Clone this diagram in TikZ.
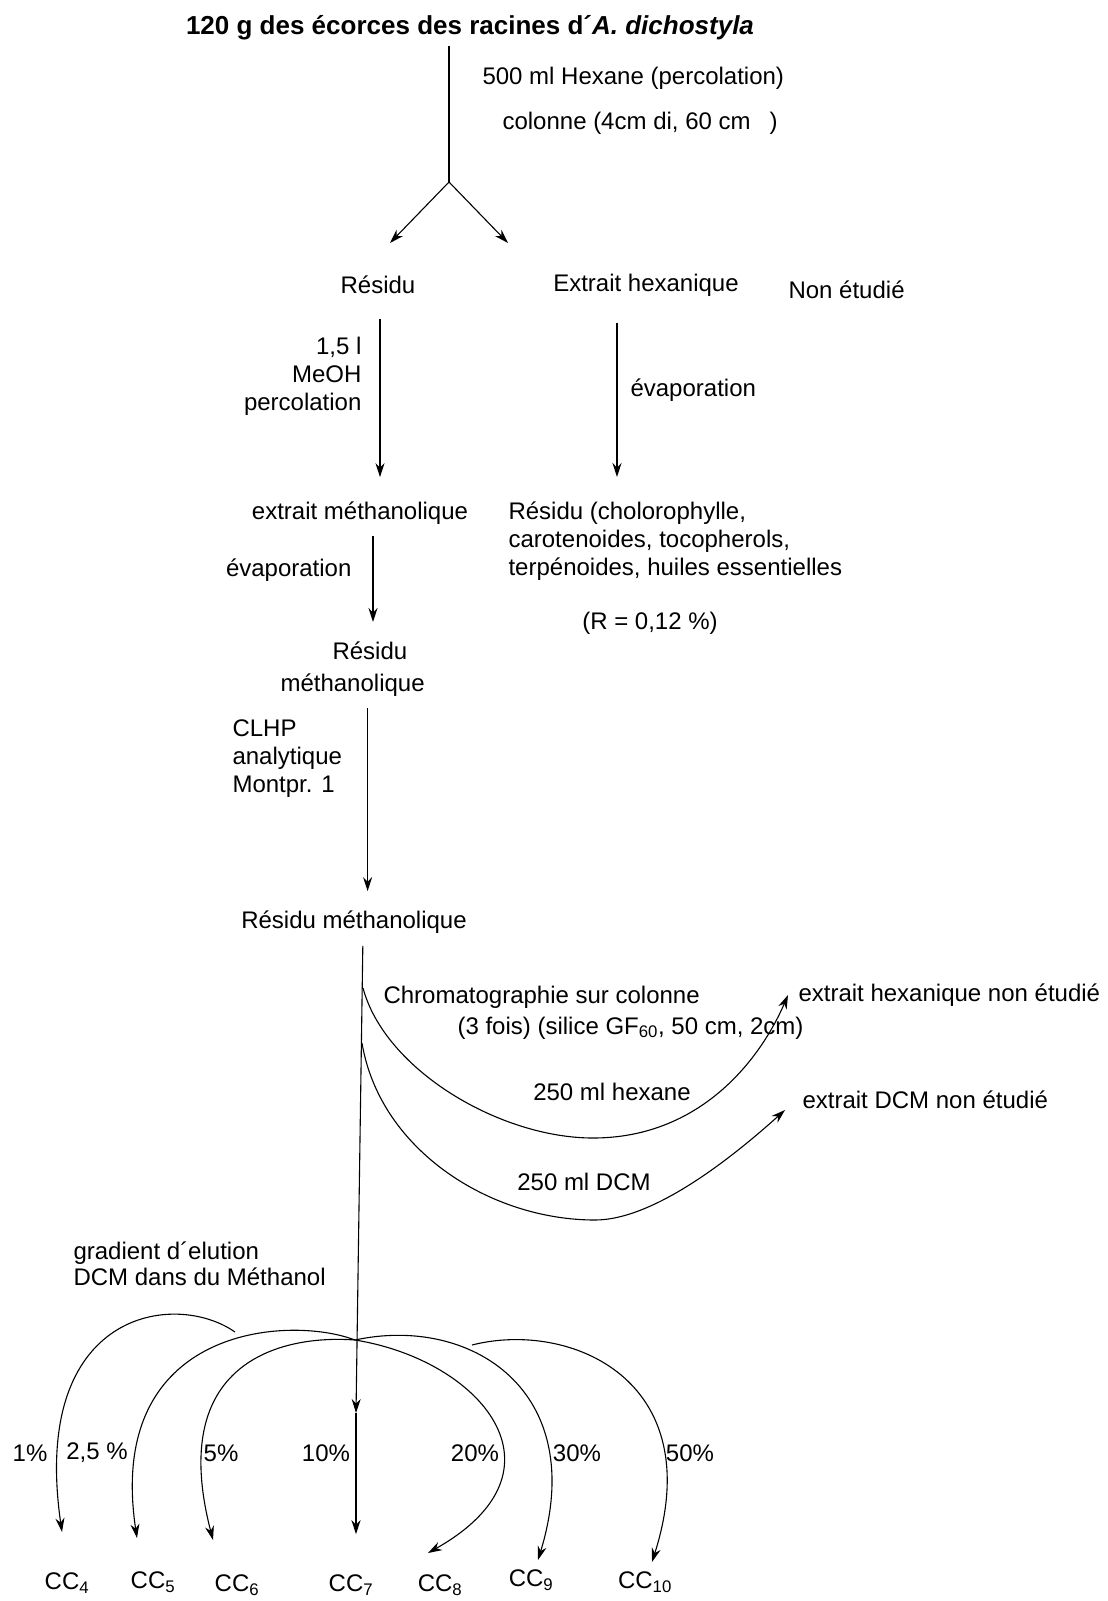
\documentclass[tikz,border=0pt]{standalone}
\usepackage{fontspec}
\setmainfont{Liberation Sans}
\usetikzlibrary{positioning,arrows.meta}

\begin{document}
\begin{tikzpicture}[x=1pt, y=-1pt, line width=1.1pt, >={Stealth[length=14pt,width=9pt]},
  every node/.style={inner sep=0pt, font=\fontsize{24}{28}\selectfont},
  bloc/.style={align=left}]
\useasboundingbox (0,0) rectangle (1108,1601);

\node[font=\fontsize{26}{30}\selectfont\bfseries] (plante) at (470,28) {120 g des écorces des racines d´\textit{A. dichostyla}};
\coordinate (fourche) at (449,182);
\coordinate (pointeL) at (390,243);
\coordinate (pointeR) at (508,243);
\draw[shorten <=5pt] (plante.south -| fourche) -- (fourche);
\draw[->] (fourche) -- (pointeL);
\draw[->] (fourche) -- (pointeR);
\node[anchor=west] (hexane) at (482,78) {500 ml Hexane (percolation)};
\node[anchor=west] (colonne) at (502,123) {colonne (4cm di, 60 cm\hspace{19pt})};

\node (residu) at (378,285) {Résidu};
\node (exhex) at (646,285) {Extrait hexanique};
\node[anchor=west] (nonetudie) at (788,290) {Non étudié};

\node[anchor=north east, align=right] (meoh) at (362,337) {1,5 l\\MeOH\\percolation};
\node[anchor=west] (evap1) at (630,390) {évaporation};
\node (extmeth) at (360,513) {extrait méthanolique};
\node[anchor=north west, bloc] (chloro) at (508,501) {Résidu (cholorophylle,\\carotenoides, tocopherols,\\terpénoides, huiles essentielles};
\node (rdt) at (650,623) {(R = 0,12 \%)};
\draw[->, shorten <=24pt, shorten >=24pt] ([xshift=2pt]residu.south) -- ([xshift=2pt]residu.south |- extmeth.north);
\draw[->, shorten <=26pt, shorten >=24pt] ([xshift=-29pt]exhex.south) -- ([xshift=-29pt]exhex.south |- chloro.north);

\node[anchor=east] (evap2) at (352,570) {évaporation};
\node[anchor=north west, bloc, font=\fontsize{24}{32}\selectfont] (resmeth) at (280,641) {\hspace*{52pt}Résidu\\méthanolique};
\draw[->, shorten <=11pt, shorten >=19pt] ([xshift=13pt]extmeth.south) -- ([xshift=13pt]extmeth.south |- resmeth.north);

\node[anchor=north west, bloc] (clhp) at (232,719) {CLHP\\analytique\\Montpr. 1};
\node (resmeth2) at (354,922) {Résidu méthanolique};
\draw[->, shorten <=11pt, shorten >=19pt] ([xshift=15pt]resmeth.south) -- ([xshift=15pt]resmeth.south |- resmeth2.north);

\coordinate (branche1) at (363,988);
\coordinate (branche2) at (362,1043);
\coordinate (hub) at (355,1340);
\coordinate (milieu) at (356,1413);
\node (cc7) at (351,1585) {CC\textsubscript{7}};
\draw[->, shorten <=12pt] ([xshift=9pt]resmeth2.south) -- (milieu);
\draw[->, shorten >=40pt] (milieu) -- (milieu |- cc7.north);

\node[anchor=west] (chrom) at (383,997) {Chromatographie sur colonne};
\node[anchor=west] (silice) at (457,1028) {(3 fois) (silice GF\textsubscript{60}, 50 cm, 2cm)};
\node (hex250) at (612,1092) {250 ml hexane};
\node[anchor=west] (ehne) at (798,995) {extrait hexanique non étudié};
\node (dcm250) at (584,1182) {250 ml DCM};
\node[anchor=west] (edne) at (802,1100) {extrait DCM non étudié};
\draw[->] (branche1) .. controls (385,1070) and (500,1138) .. (593,1138)
  .. controls (700,1138) and (760,1060) .. ([xshift=-10pt]ehne.west);
\draw[->] (branche2) .. controls (380,1150) and (490,1220) .. (595,1220)
  .. controls (655,1220) and (735,1155) .. ([xshift=-17pt,yshift=-10pt]edne.west);

\node[anchor=north west, bloc, font=\fontsize{24}{26}\selectfont] (gradient) at (73,1241) {gradient d´elution\\DCM dans du Méthanol};

\node (cc4) at (67,1583) {CC\textsubscript{4}};
\node (cc5) at (153,1582) {CC\textsubscript{5}};
\node (cc6) at (237,1585) {CC\textsubscript{6}};
\node (cc8) at (440,1585) {CC\textsubscript{8}};
\node (cc9) at (531,1580) {CC\textsubscript{9}};
\node (cc10) at (645,1582) {CC\textsubscript{10}};

\node (pc1) at (30,1453) {1\%};
\node (pc2) at (97,1453) {2,5 \%};
\node (pc5) at (221,1453) {5\%};
\node (pc10) at (326,1453) {10\%};
\node (pc20) at (475,1453) {20\%};
\node (pc30) at (577,1453) {30\%};
\node (pc50) at (690,1453) {50\%};

\coordinate (depart4) at (235,1332);
\coordinate (depart10) at (472,1345);
\coordinate (p4) at (62,1532);
\coordinate (p5) at (137,1538);
\coordinate (p6) at (213,1540);
\coordinate (p8) at (428,1553);
\coordinate (p9) at (538,1560);
\coordinate (p10) at (652,1562);
\draw[->] (depart4) .. controls (175,1290) and (30,1310) .. (p4);
\draw[->] (hub) .. controls (290,1315) and (105,1325) .. (p5);
\draw[->] (hub) .. controls (290,1335) and (165,1355) .. (p6);
\draw[->] (hub) .. controls (480,1360) and (575,1470) .. (p8);
\draw[->] (hub) .. controls (470,1315) and (590,1390) .. (p9);
\draw[->] (depart10) .. controls (570,1320) and (710,1380) .. (p10);
\end{tikzpicture}
\end{document}
